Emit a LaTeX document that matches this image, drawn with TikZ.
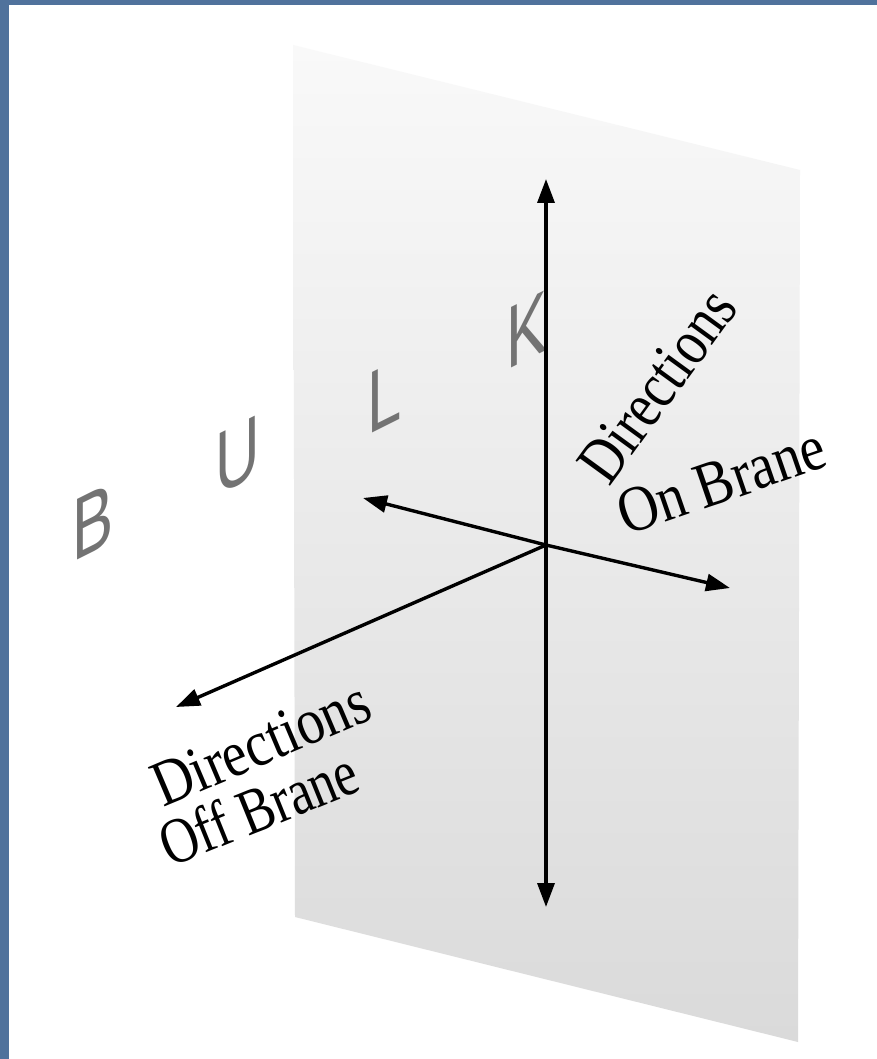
\documentclass[tikz,border=0pt]{standalone}
\usepackage{fontspec}
\setmainfont{Liberation Serif}
\newfontfamily\bulkfont{Liberation Sans}
\usetikzlibrary{arrows.meta}
\definecolor{slideblue}{RGB}{80,114,156}
\definecolor{bulkgray}{RGB}{115,115,115}
\definecolor{branetop}{RGB}{249,249,249}
\definecolor{branebot}{RGB}{218,218,218}
\tikzset{
  axisline/.style={line width=3.4pt, -{Triangle[length=24pt,width=17pt]}},
  bulkletter/.style={font=\bulkfont\fontsize{88}{88}\selectfont, text=bulkgray, inner sep=0pt, yslant=0.5, xscale=0.7},
  dirlabel/.style={font=\fontsize{65}{70}\selectfont, inner sep=0pt, anchor=base west},
}
\begin{document}
\begin{tikzpicture}[x=1pt,y=-1pt]
\useasboundingbox (0,0) rectangle (877,1059);
\fill[slideblue] (0,0) rectangle (877,1059);
\fill[white] (9,5) rectangle (877,1059);
% brane
\shade[top color=branetop, bottom color=branebot] (293,45) -- (800,170) -- (798,1042) -- (295,917) -- cycle;
% BULK letters
\node[bulkletter] (B) at (93,522) {B};
\node[bulkletter] (U) at (238,456) {U};
\node[bulkletter] (L) at (385,397) {L};
\node[bulkletter] (K) at (527,330) {K};
% axes
\coordinate (O) at (546,545);
\coordinate (up) at (546,179);
\coordinate (down) at (546,907);
\coordinate (left) at (363,498);
\coordinate (right) at (730,588);
\coordinate (off) at (176,707);
\draw[axisline] (O) -- (up);
\draw[axisline] (O) -- (down);
\draw[axisline] (O) -- (left);
\draw[axisline] (O) -- (right);
\draw[axisline] (O) -- (off);
% labels
\node[dirlabel, rotate=54, xscale=0.82] (dirOn) at (609,488) {Directions};
\node[dirlabel, rotate=19, xscale=0.86] (onBrane) at (626,536) {On Brane};
\node[dirlabel, rotate=23, xscale=0.85] (dirOff) at (163,808) {Directions};
\node[dirlabel, rotate=22, xscale=0.80] (offBrane) at (170,868) {Off Brane};
\end{tikzpicture}
\end{document}
